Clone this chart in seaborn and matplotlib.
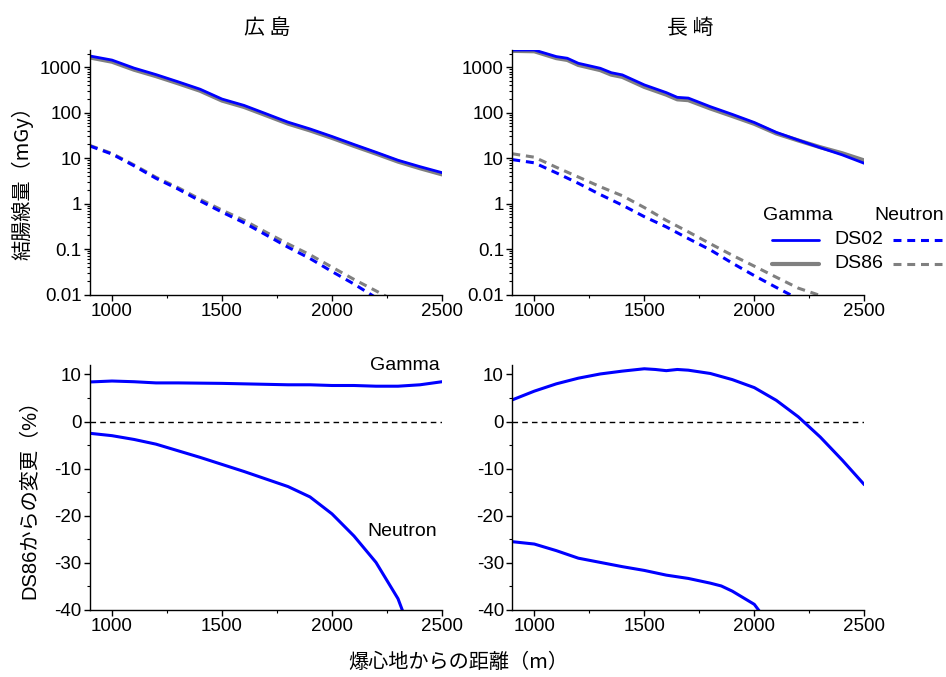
import numpy as np
import pandas as pd
import matplotlib
matplotlib.use("Agg")
import matplotlib.pyplot as plt
import seaborn as sns
from matplotlib.lines import Line2D
from matplotlib.ticker import FixedLocator, FuncFormatter, MultipleLocator, LogLocator, NullFormatter

# ---------------- data ----------------
hiro_dist = [900, 1000, 1100, 1200, 1300, 1400, 1500, 1600, 1700, 1800, 1900, 2000, 2100, 2200, 2300, 2400, 2500]
hiro_gamma_ds02 = [1770, 1440, 960, 690, 480, 330, 200, 145, 95, 62, 44, 30, 20, 13.5, 9.0, 6.5, 4.8]
hiro_gamma_ds86 = [1640, 1325, 885, 638, 444, 305, 185, 134, 88, 57.5, 40.8, 27.9, 18.6, 12.6, 8.4, 6.0, 4.4]
hiro_neut_ds02 = [18.5, 12.3, 6.8, 3.6, 2.1, 1.15, 0.65, 0.38, 0.205, 0.11, 0.062, 0.032, 0.017, 0.0085, 0.0045, 0.0025, 0.0013]
hiro_neut_ds86 = [19.0, 12.7, 7.1, 3.8, 2.25, 1.25, 0.72, 0.43, 0.235, 0.13, 0.075, 0.04, 0.0215, 0.012, 0.0066, 0.0036, 0.002]
hiro_gamma_pct = [8.4, 8.6, 8.45, 8.2, 8.2, 8.15, 8.1, 8.0, 7.9, 7.8, 7.8, 7.65, 7.65, 7.5, 7.5, 7.8, 8.45]
hiro_neut_pct = [-2.5, -3.0, -3.8, -4.8, -6.2, -7.6, -9.1, -10.6, -12.2, -13.8, -16.0, -19.6, -24.3, -29.9, -37.6, -50, -62]

naga_dist = [900, 1000, 1100, 1150, 1200, 1300, 1350, 1400, 1500, 1600, 1650, 1700, 1800, 1900, 2000, 2100, 2200, 2300, 2400, 2500]
naga_gamma_ds02 = [2400, 2400, 1720, 1580, 1225, 950, 760, 680, 410, 277, 218, 210, 136, 92, 61, 37, 25, 17, 11.8, 7.7]
naga_gamma_ds86 = [2300, 2250, 1590, 1450, 1125, 865, 688, 615, 370, 250, 197, 189, 124, 84.5, 57, 35, 24.5, 17.4, 12.8, 8.9]
naga_neut_dist = [900, 1000, 1100, 1200, 1300, 1400, 1500, 1600, 1700, 1800, 1900, 2000, 2100, 2200, 2300, 2400, 2500]
naga_neut_ds02 = [9.3, 7.9, 4.75, 2.8, 1.58, 0.925, 0.516, 0.307, 0.17, 0.096, 0.049, 0.026, 0.0143, 0.008, 0.0045, 0.0025, 0.0014]
naga_neut_ds86 = [12.5, 10.5, 6.3, 3.85, 2.35, 1.49, 0.82, 0.427, 0.239, 0.131, 0.073, 0.042, 0.024, 0.0138, 0.0095, 0.006, 0.0038]

naga_pct_dist = [900, 1000, 1100, 1200, 1300, 1400, 1500, 1550, 1600, 1650, 1700, 1800, 1900, 2000, 2100, 2200, 2300, 2400, 2500]
naga_gamma_pct = [4.6, 6.45, 8.0, 9.2, 10.1, 10.7, 11.2, 11.05, 10.8, 11.05, 10.9, 10.2, 8.9, 7.2, 4.5, 1.0, -3.3, -8.2, -13.4]
naga_neutpct_dist = [900, 1000, 1100, 1200, 1300, 1400, 1500, 1600, 1700, 1800, 1850, 1900, 2000, 2100]
naga_neut_pct = [-25.5, -26.0, -27.4, -29.0, -29.9, -30.8, -31.6, -32.6, -33.3, -34.3, -34.9, -36.0, -38.8, -45.0]

titles = ["広 島", "長 崎"]
dose_ticks = [0.01, 0.1, 1, 10, 100, 1000]
pct_ticks = [10, 0, -10, -20, -30, -40]
dist_ticks = [1000, 1500, 2000, 2500]

# ---------------- style ----------------
sns.set_style("ticks")
plt.rcParams['font.family'] = ['Liberation Sans', 'Noto Sans CJK JP', 'DejaVu Sans']
plt.rcParams['axes.unicode_minus'] = False
plt.rcParams['text.color'] = 'black'

BLUE = "#0000ff"
GRAY = "#808080"
TICK_FS = 13.5

fig = plt.figure(figsize=(9.46, 6.77), dpi=100)
W, H = 946, 677

def add_axes_px(x0, y0, x1, y1):
    return fig.add_axes([x0 / W, 1 - y1 / H, (x1 - x0) / W, (y1 - y0) / H])

ax_hd = add_axes_px(90, 50, 442, 294.5)
ax_nd = add_axes_px(512.3, 50, 864.3, 294.5)
ax_hp = add_axes_px(90, 365, 442, 610)
ax_np = add_axes_px(512.3, 365, 864.3, 610)

dash = (2.6, 1.9)

def dose_panel(ax, gdist, g02, g86, ndist, n02, n86):
    sns.lineplot(x=gdist, y=g86, ax=ax, color=GRAY, lw=3.0, estimator=None, sort=False)
    sns.lineplot(x=gdist, y=g02, ax=ax, color=BLUE, lw=2.0, estimator=None, sort=False)
    sns.lineplot(x=ndist, y=n86, ax=ax, color=GRAY, lw=2.2, estimator=None, sort=False)
    ax.lines[-1].set_dashes(dash)
    sns.lineplot(x=ndist, y=n02, ax=ax, color=BLUE, lw=2.2, estimator=None, sort=False)
    ax.lines[-1].set_dashes(dash)
    ax.set_yscale("log")
    ax.set_ylim(0.01, 2400)
    ax.yaxis.set_major_locator(FixedLocator(dose_ticks))
    ax.yaxis.set_major_formatter(FuncFormatter(lambda v, p: f"{v:g}"))
    ax.yaxis.set_minor_locator(LogLocator(base=10, subs=np.arange(2, 10)))
    ax.yaxis.set_minor_formatter(NullFormatter())

def pct_panel(ax):
    ax.axhline(0, color="black", lw=1.0, ls=(0, (4, 3)))
    ax.set_ylim(-40, 12)
    ax.yaxis.set_major_locator(FixedLocator(pct_ticks))
    ax.yaxis.set_minor_locator(MultipleLocator(5))

dose_panel(ax_hd, hiro_dist, hiro_gamma_ds02, hiro_gamma_ds86, hiro_dist, hiro_neut_ds02, hiro_neut_ds86)
dose_panel(ax_nd, naga_dist, naga_gamma_ds02, naga_gamma_ds86, naga_neut_dist, naga_neut_ds02, naga_neut_ds86)

pct_panel(ax_hp)
sns.lineplot(x=hiro_dist, y=hiro_gamma_pct, ax=ax_hp, color=BLUE, lw=2.2, estimator=None, sort=False)
sns.lineplot(x=hiro_dist, y=hiro_neut_pct, ax=ax_hp, color=BLUE, lw=2.2, estimator=None, sort=False)
pct_panel(ax_np)
sns.lineplot(x=naga_pct_dist, y=naga_gamma_pct, ax=ax_np, color=BLUE, lw=2.2, estimator=None, sort=False)
sns.lineplot(x=naga_neutpct_dist, y=naga_neut_pct, ax=ax_np, color=BLUE, lw=2.2, estimator=None, sort=False)

for ax in (ax_hd, ax_nd, ax_hp, ax_np):
    ax.set_xlim(900, 2500)
    ax.xaxis.set_major_locator(FixedLocator(dist_ticks))
    ax.xaxis.set_minor_locator(FixedLocator([1250, 1750, 2250]))
    ax.xaxis.set_major_formatter(FuncFormatter(lambda v, p: f"{v:g}"))
    ax.tick_params(axis="both", which="major", direction="out", length=4, width=1, labelsize=TICK_FS, pad=2,
                   colors="black", labelcolor="black")
    ax.tick_params(axis="both", which="minor", direction="out", length=2.5, width=0.8, colors="black")
    sns.despine(ax=ax)
    for s in ("left", "bottom"):
        ax.spines[s].set_color("black")
        ax.spines[s].set_linewidth(1.0)
    ax.set_xlabel("")
    ax.set_ylabel("")
    ax.set_facecolor("white")

# titles
fig.text(267 / W, 1 - 28 / H, titles[0], ha="center", va="center", fontsize=15, family=['Noto Sans CJK JP'])
fig.text(690 / W, 1 - 28 / H, titles[1], ha="center", va="center", fontsize=15, family=['Noto Sans CJK JP'])

# axis labels
fig.text(22 / W, 1 - 178 / H, "結腸線量（mGy）", rotation=90, ha="center", va="center", fontsize=14.5,
         family=['Noto Sans CJK JP'])
fig.text(30 / W, 1 - 494 / H, "DS86からの変更（%）", rotation=90, ha="center", va="center", fontsize=14.5,
         family=['Liberation Sans', 'Noto Sans CJK JP'])
fig.text(458 / W, 1 - 662 / H, "爆心地からの距離（m）", ha="center", va="center", fontsize=14.5,
         family=['Noto Sans CJK JP'])

# annotations in bottom-left panel
fig.text(405 / W, 1 - 365 / H, "Gamma", ha="center", va="center", fontsize=14)
fig.text(402 / W, 1 - 531 / H, "Neutron", ha="center", va="center", fontsize=14)

# custom legend
fig.text(798 / W, 1 - 216 / H, "Gamma", ha="center", va="center", fontsize=14)
fig.text(909 / W, 1 - 216 / H, "Neutron", ha="center", va="center", fontsize=14)
fig.text(859 / W, 1 - 239.5 / H, "DS02", ha="center", va="center", fontsize=14)
fig.text(859 / W, 1 - 264 / H, "DS86", ha="center", va="center", fontsize=14)
fig.add_artist(Line2D([772 / W, 819 / W], [1 - 239.5 / H] * 2, color=BLUE, lw=2.0, transform=fig.transFigure))
fig.add_artist(Line2D([772 / W, 819 / W], [1 - 264 / H] * 2, color=GRAY, lw=3.0, transform=fig.transFigure))
ln = Line2D([893 / W, 942 / W], [1 - 239.5 / H] * 2, color=BLUE, lw=2.2, transform=fig.transFigure)
ln.set_dashes(dash)
fig.add_artist(ln)
ln = Line2D([893 / W, 942 / W], [1 - 264 / H] * 2, color=GRAY, lw=2.2, transform=fig.transFigure)
ln.set_dashes(dash)
fig.add_artist(ln)

fig.savefig("out.png", dpi=100, facecolor="white")
